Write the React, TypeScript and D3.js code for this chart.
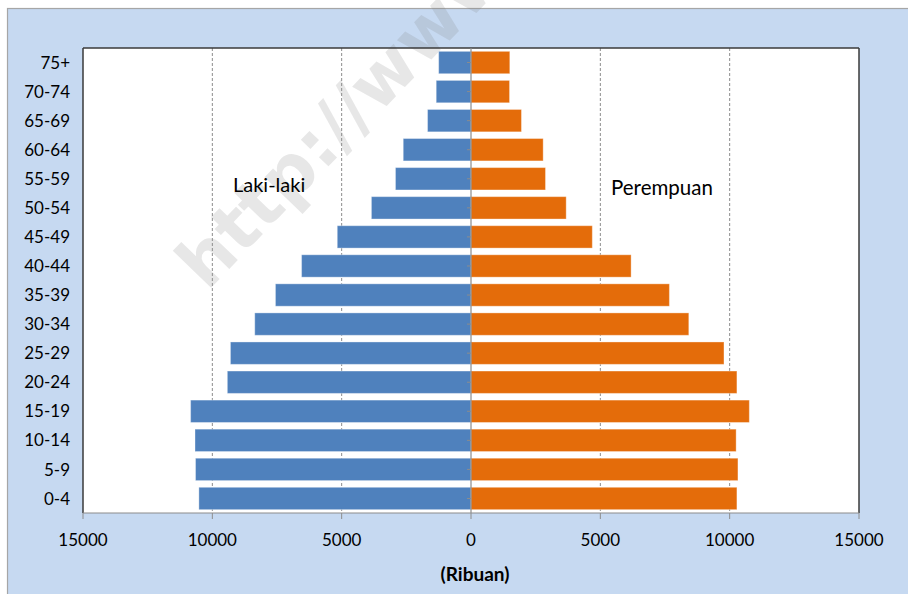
import React from "react";
import * as d3 from "d3";

const categories = ["0-4","5-9","10-14","15-19","20-24","25-29","30-34","35-39","40-44","45-49","50-54","55-59","60-64","65-69","70-74","75+"];
const male = [10520, 10650, 10670, 10840, 9420, 9300, 8360, 7560, 6550, 5170, 3850, 2920, 2620, 1680, 1345, 1250];
const female = [10280, 10320, 10250, 10760, 10280, 9780, 8420, 7670, 6190, 4690, 3680, 2880, 2790, 1950, 1490, 1500];
const xTicks = [-15000, -10000, -5000, 0, 5000, 10000, 15000];
const maleLabel = "Laki-laki";
const femaleLabel = "Perempuan";
const axisTitle = "(Ribuan)";
const watermark = "http://www.";

const W = 908, H = 594;
const L = 83, R = 859, T = 48, B = 513;
const FONT = "Lato, 'Open Sans', sans-serif";

export default function App() {
  const x = d3.scaleLinear().domain([-15000, 15000]).range([L, R]);
  const y = d3.scaleBand<string>()
    .domain([...categories].reverse())
    .range([T, B])
    .paddingInner(0.23)
    .paddingOuter(0.115);
  const x0 = x(0);

  return (
    <svg width={W} height={H} style={{ position: "absolute", left: 0, top: 0, display: "block" }} fontFamily={FONT}>
      <rect x={0} y={0} width={W} height={H} fill="#fff" />
      <rect x={7.5} y={8.5} width={W + 10} height={H + 10} fill="#c6d9f1" stroke="#a6a6a6" strokeWidth={1.2} />
      <rect x={L} y={T} width={R - L} height={B - T} fill="#fff" />

      {/* watermark */}
      <text
        transform={`translate(207,292) rotate(-46)`}
        fontFamily="'DejaVu Sans', sans-serif"
        fontWeight="bold"
        fontSize={70}
        fill="#808080"
        fillOpacity={0.19}
      >{watermark}</text>

      {/* gridlines */}
      {xTicks.filter(t => t !== 0 && Math.abs(t) !== 15000).map(t => (
        <line key={"g" + t} x1={x(t)} x2={x(t)} y1={T} y2={B} stroke="#8c8c8c" strokeWidth={1} strokeDasharray="3,2" />
      ))}

      {/* bars */}
      {categories.map((c, i) => (
        <g key={c}>
          <rect x={x(-male[i])} y={y(c)} width={x0 - x(-male[i])} height={y.bandwidth()} fill="#4f81bd" stroke="#ffffff" strokeOpacity={0.35} strokeWidth={1} />
          <rect x={x0} y={y(c)} width={x(female[i]) - x0} height={y.bandwidth()} fill="#e46c0a" stroke="#ffffff" strokeOpacity={0.35} strokeWidth={1} />
        </g>
      ))}

      {/* plot border */}
      <line x1={L} x2={R} y1={T} y2={T} stroke="#3a3a3a" strokeWidth={1.5} />
      <line x1={L} x2={L} y1={T} y2={B} stroke="#3a3a3a" strokeWidth={1.5} />
      <line x1={R} x2={R} y1={T} y2={B} stroke="#3a3a3a" strokeWidth={1.5} />

      {/* zero axis */}
      <line x1={x0} x2={x0} y1={T} y2={B} stroke="#8c8c8c" strokeWidth={1.2} />
      {categories.map(c => (
        <line key={"t" + c} x1={x0 - 4} x2={x0} y1={(y(c) as number) + y.bandwidth() / 2} y2={(y(c) as number) + y.bandwidth() / 2} stroke="#8c8c8c" strokeWidth={1} />
      ))}

      {/* x axis */}
      <line x1={L} x2={R} y1={B} y2={B} stroke="#8c8c8c" strokeWidth={1.2} />
      {xTicks.map(t => (
        <g key={"x" + t}>
          <line x1={x(t)} x2={x(t)} y1={B} y2={B + 6} stroke="#8c8c8c" strokeWidth={1} />
          <text x={x(t)} y={546} textAnchor="middle" fontSize={17} fill="#000">{Math.abs(t)}</text>
        </g>
      ))}

      {/* y labels */}
      {categories.map(c => (
        <text key={"l" + c} x={70} y={(y(c) as number) + y.bandwidth() / 2} dy="0.36em" textAnchor="end" fontSize={17} fill="#000">{c}</text>
      ))}

      <text x={233} y={192} fontSize={20} fill="#000">{maleLabel}</text>
      <text x={611} y={195} fontSize={20.5} fill="#000">{femaleLabel}</text>
      <text x={475} y={581} textAnchor="middle" fontSize={19} fontWeight="bold" fill="#000">{axisTitle}</text>
    </svg>
  );
}
